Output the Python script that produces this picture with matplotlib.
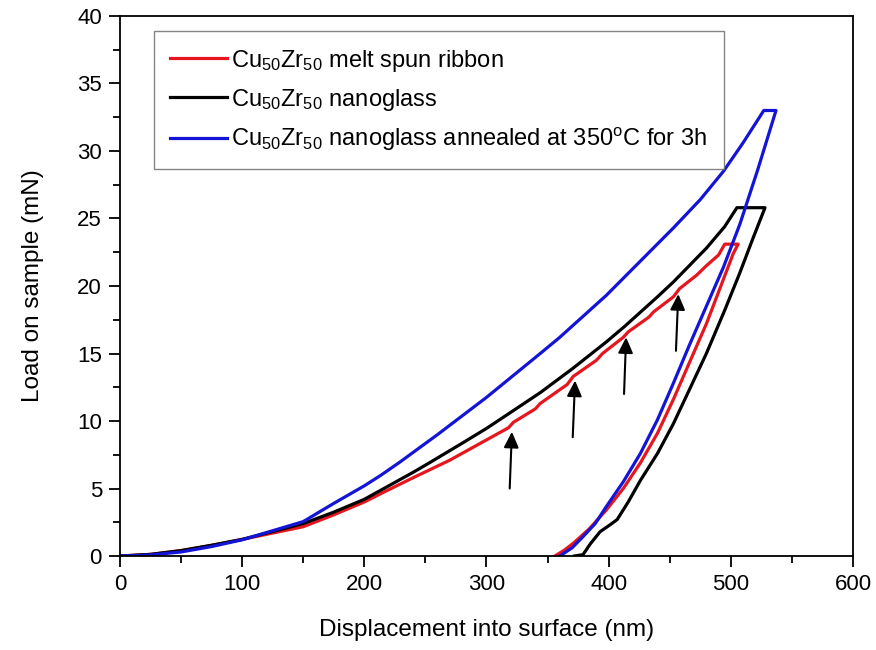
import matplotlib
matplotlib.use("Agg")
import matplotlib.pyplot as plt
from matplotlib.ticker import MultipleLocator

plt.rcParams['font.family'] = ['Liberation Sans', 'DejaVu Sans']
plt.rcParams['mathtext.default'] = 'regular'

# Load-displacement data (nm, mN)
ribbon_x = [0, 25, 50, 75, 100, 150, 175, 200, 213, 240, 270, 296, 300, 318, 322, 340, 344,
            366, 371, 390, 395, 412, 416, 433, 437, 453, 458, 472, 480, 490, 495,
            506, 502, 491, 480, 466, 453, 440, 426, 412, 398, 384, 371, 364, 356]
ribbon_y = [0, 0.12, 0.4, 0.78, 1.23, 2.17, 3.05, 4.0, 4.6, 5.8, 7.1, 8.4, 8.6, 9.5, 9.9, 10.9, 11.3,
            12.7, 13.3, 14.5, 15.0, 16.2, 16.6, 17.7, 18.1, 19.2, 19.8, 20.8, 21.5, 22.3, 23.1,
            23.1, 22.4, 19.8, 17.2, 14.3, 11.6, 9.1, 6.9, 5.0, 3.4, 2.0, 0.94, 0.45, 0]

nano_x = [0, 25, 50, 75, 100, 150, 175, 200, 213, 240, 256, 280, 300, 320, 344, 370, 398, 413,
          440, 453, 480, 495, 505, 528, 518, 507.5, 495, 480, 466, 453, 440, 426, 416,
          407, 401, 393, 385, 379, 372]
nano_y = [0, 0.12, 0.4, 0.8, 1.23, 2.4, 3.25, 4.2, 4.85, 6.2, 7.05, 8.35, 9.45, 10.65, 12.1,
          13.85, 15.85, 17.0, 19.2, 20.3, 22.8, 24.4, 25.8, 25.8, 23.5, 21.0, 18.2, 15.0,
          12.3, 9.8, 7.6, 5.6, 4.0, 2.7, 2.3, 1.8, 0.9, 0.1, 0]

annealed_x = [0, 25, 50, 75, 100, 150, 175, 200, 213, 229, 260, 300, 344, 360, 398, 420,
              453, 475, 494, 510, 527, 537, 522, 507.5, 494, 480, 466, 453, 440, 426,
              412, 398, 389, 379, 370, 360]
annealed_y = [0, 0.08, 0.3, 0.7, 1.2, 2.55, 3.9, 5.2, 5.95, 6.95, 9.0, 11.75, 15.0, 16.2,
              19.3, 21.3, 24.3, 26.4, 28.5, 30.6, 33.0, 33.0, 28.6, 24.6, 21.4, 18.5, 15.6,
              12.8, 10.1, 7.6, 5.5, 3.65, 2.4, 1.43, 0.6, 0]

# pop-in arrows: tail (x, y) -> head (x, y)
arrow_tail_x = [319, 370.6, 412.6, 455.1]
arrow_tail_y = [5.0, 8.8, 12.0, 15.2]
arrow_head_x = [320.8, 372.5, 414.3, 457.0]
arrow_head_y = [9.2, 13.0, 16.2, 19.4]

fig = plt.figure(figsize=(8.76, 6.5), dpi=100)
ax = fig.add_axes([0.137, 0.1446, 0.8367, 0.8308])

lw = 2.3
ax.plot(ribbon_x, ribbon_y, color='#e6161e', lw=lw,
        label=r'Cu$_{50}$Zr$_{50}$ melt spun ribbon')
ax.plot(nano_x, nano_y, color='black', lw=lw,
        label=r'Cu$_{50}$Zr$_{50}$ nanoglass')
ax.plot(annealed_x, annealed_y, color='#1414d6', lw=lw,
        label=r'Cu$_{50}$Zr$_{50}$ nanoglass annealed at 350$^{o}$C for 3h')

for tx, ty, hx, hy in zip(arrow_tail_x, arrow_tail_y, arrow_head_x, arrow_head_y):
    ax.annotate('', xy=(hx, hy), xytext=(tx, ty),
                arrowprops=dict(arrowstyle='-|>,head_length=0.95,head_width=0.45',
                                color='black', lw=1.5, shrinkA=0, shrinkB=0))

ax.set_xlim(0, 600)
ax.set_ylim(0, 40)
ax.xaxis.set_major_locator(MultipleLocator(100))
ax.xaxis.set_minor_locator(MultipleLocator(50))
ax.yaxis.set_major_locator(MultipleLocator(5))
ax.yaxis.set_minor_locator(MultipleLocator(2.5))
ax.tick_params(which='major', direction='out', length=8, width=1.3, labelsize=16, pad=5)
ax.tick_params(which='minor', direction='out', length=5, width=1.3)
for s in ax.spines.values():
    s.set_linewidth(1.3)

ax.set_xlabel('Displacement into surface (nm)', fontsize=17.5, labelpad=17)
ax.set_ylabel('Load on sample (mN)', fontsize=17.5, labelpad=24)

leg = ax.legend(loc='upper left', bbox_to_anchor=(0.0457, 0.972), fontsize=17,
                frameon=True, fancybox=False, edgecolor='#666666',
                handlelength=2.4, handletextpad=0.2, labelspacing=0.55,
                borderpad=0.7, borderaxespad=0)
leg.get_frame().set_linewidth(1.0)

plt.savefig('out.png', dpi=100)
